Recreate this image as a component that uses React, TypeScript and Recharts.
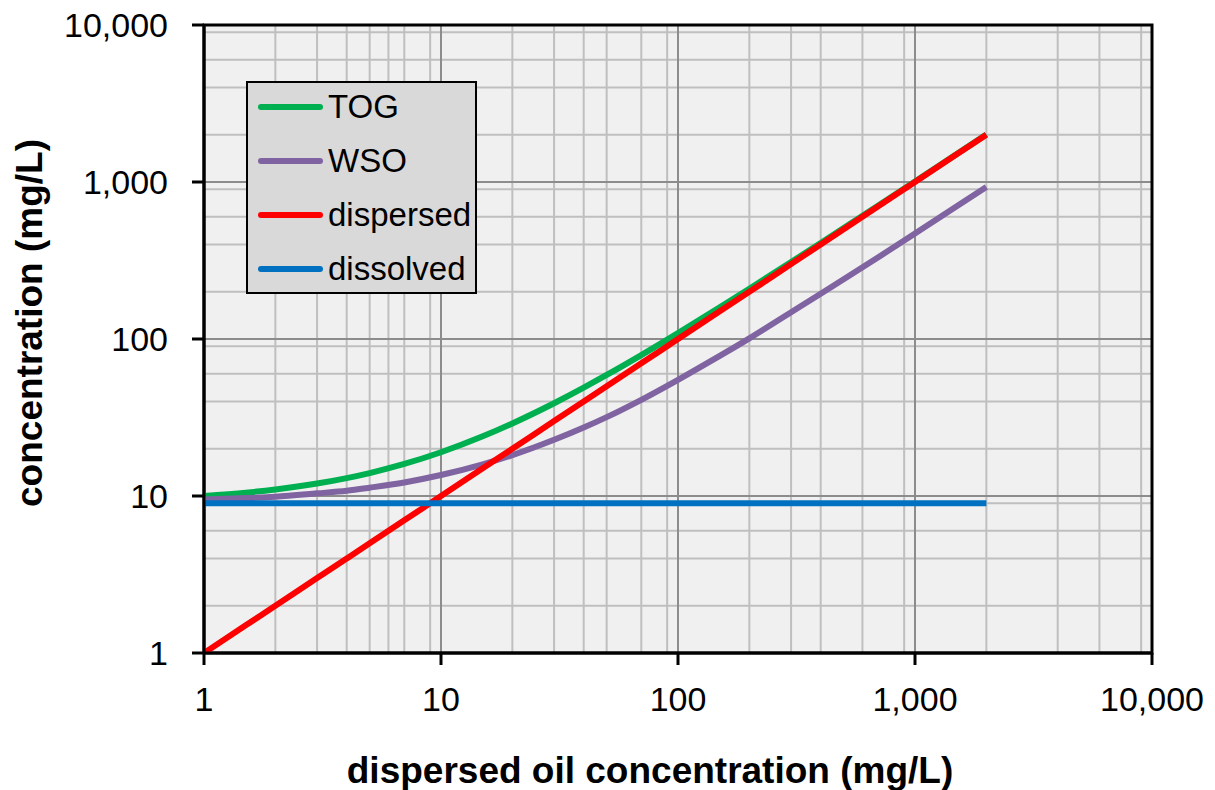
import React from "react";
import {
  LineChart,
  Line,
  XAxis,
  YAxis,
  CartesianGrid,
  Legend,
  Label,
  ReferenceArea,
} from "recharts";

// dispersed oil concentration (mg/L)
const dispersedOil = [1, 1.5, 2, 3, 4, 5, 7, 10, 15, 20, 30, 40, 50, 70, 100, 150, 200, 300, 400, 500, 700, 1000, 1500, 2000];

// resulting concentrations (mg/L)
const tog = [10, 10.5, 11, 12, 13, 14, 16, 19, 24, 29, 39, 49, 59, 79, 109, 159, 209, 309, 409, 509, 709, 1009, 1509, 2009];
const wso = [9.5, 9.7, 9.9, 10.4, 10.8, 11.3, 12.2, 13.6, 15.9, 18.2, 22.8, 27.3, 31.8, 41, 55, 78, 101, 148, 194, 240, 332, 470, 700, 930];
const dispersed = [1, 1.5, 2, 3, 4, 5, 7, 10, 15, 20, 30, 40, 50, 70, 100, 150, 200, 300, 400, 500, 700, 1000, 1500, 2000];
const dissolved = [9, 9, 9, 9, 9, 9, 9, 9, 9, 9, 9, 9, 9, 9, 9, 9, 9, 9, 9, 9, 9, 9, 9, 9];

const majorTicks = [1, 10, 100, 1000, 10000];
const minorTicks = [
  2, 3, 4, 5, 6, 7, 8, 9,
  20, 30, 40, 50, 60, 70, 80, 90,
  200, 300, 400, 500, 600, 700, 800, 900,
  2000, 3000, 4000, 5000, 6000, 7000, 8000, 9000,
];

const series = [
  { key: "TOG", label: "TOG", color: "#00b050", values: tog },
  { key: "WSO", label: "WSO", color: "#8064a2", values: wso },
  { key: "dispersed", label: "dispersed", color: "#ff0000", values: dispersed },
  { key: "dissolved", label: "dissolved", color: "#0070c0", values: dissolved },
];

const data = dispersedOil.map((x, i) => {
  const row: Record<string, number> = { x };
  series.forEach((s) => {
    row[s.key] = s.values[i];
  });
  return row;
});

const FONT = '"Liberation Sans", Arial, sans-serif';
const fmt = (v: number) => v.toLocaleString("en-US");

function LegendBox() {
  return (
    <div
      style={{
        width: 227,
        height: 209,
        background: "#d9d9d9",
        border: "2px solid #000",
        fontFamily: FONT,
        fontSize: 33,
        color: "#000",
        boxSizing: "content-box",
      }}
    >
      {series.map((s, i) => (
        <div
          key={s.key}
          style={{
            position: "absolute",
            left: 12,
            top: 26 + i * 54 - 20,
            height: 40,
            display: "flex",
            alignItems: "center",
          }}
        >
          <div
            style={{
              width: 65,
              height: 6,
              borderRadius: 3,
              background: s.color,
              marginRight: 5,
            }}
          />
          <span>{s.label}</span>
        </div>
      ))}
    </div>
  );
}

export default function App() {
  return (
    <div style={{ position: "absolute", left: 0, top: 0 }}>
      <LineChart
        width={1215}
        height={790}
        data={data}
        margin={{ top: 25, right: 63, bottom: 0, left: 0 }}
      >
        <CartesianGrid
          horizontalValues={minorTicks}
          verticalValues={minorTicks}
          stroke="#bfbfbf"
          strokeWidth={2}
          fill="#f0f0f0"
          fillOpacity={1}
        />
        <CartesianGrid
          horizontalValues={majorTicks}
          verticalValues={majorTicks}
          stroke="#8c8c8c"
          strokeWidth={2}
        />
        <XAxis
          dataKey="x"
          type="number"
          scale="log"
          domain={[1, 10000]}
          allowDataOverflow
          ticks={majorTicks}
          tickFormatter={fmt}
          height={137}
          tickSize={12}
          tickMargin={22}
          stroke="#000"
          strokeWidth={3}
          tick={{ fill: "#000", fontSize: 34, fontFamily: FONT }}
        >
          <Label
            content={({ viewBox }: any) => (
              <text
                x={viewBox.x + viewBox.width / 2 - 28}
                y={viewBox.y + 130}
                textAnchor="middle"
                fontFamily={FONT}
                fontSize={37}
                fontWeight="bold"
                fill="#000"
              >
                dispersed oil concentration (mg/L)
              </text>
            )}
          />
        </XAxis>
        <YAxis
          type="number"
          scale="log"
          domain={[1, 10000]}
          allowDataOverflow
          ticks={majorTicks}
          tickFormatter={fmt}
          width={204}
          tickSize={12}
          tickMargin={24}
          stroke="#000"
          strokeWidth={3}
          tick={{ fill: "#000", fontSize: 34, fontFamily: FONT }}
        >
          <Label
            content={({ viewBox }: any) => {
              const cx = 42;
              const cy = viewBox.y + viewBox.height / 2 - 16;
              return (
                <text
                  x={cx}
                  y={cy}
                  transform={`rotate(-90, ${cx}, ${cy})`}
                  textAnchor="middle"
                  fontFamily={FONT}
                  fontSize={37}
                  fontWeight="bold"
                  fill="#000"
                >
                  concentration (mg/L)
                </text>
              );
            }}
          />
        </YAxis>
        <ReferenceArea
          x1={1}
          x2={10000}
          y1={1}
          y2={10000}
          fill="none"
          stroke="#000"
          strokeWidth={3}
          ifOverflow="visible"
        />
        {series.map((s) => (
          <Line
            key={s.key}
            dataKey={s.key}
            name={s.label}
            type="monotone"
            stroke={s.color}
            strokeWidth={6}
            dot={false}
            isAnimationActive={false}
          />
        ))}
        <Legend
          layout="vertical"
          align="center"
          verticalAlign="middle"
          content={() => <LegendBox />}
          wrapperStyle={{ position: "absolute", left: 246, top: 81, width: 231, height: 213 }}
        />
      </LineChart>
    </div>
  );
}
